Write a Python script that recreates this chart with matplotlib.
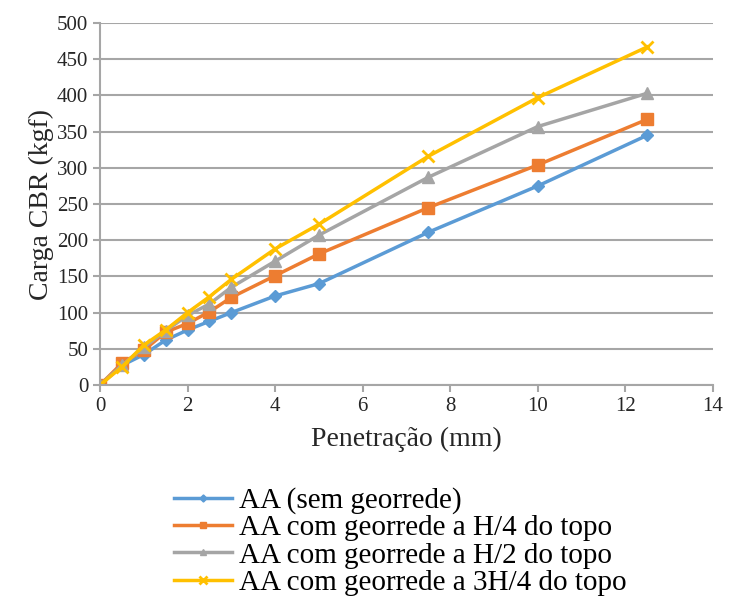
import matplotlib
matplotlib.use("Agg")
import matplotlib.pyplot as plt

plt.rcParams['font.family'] = ['Liberation Serif', 'DejaVu Serif']

penetracao = [0, 0.5, 1, 1.5, 2, 2.5, 3, 4, 5, 7.5, 10, 12.5]
sem_georrede = [0, 27, 42, 62, 76, 88, 100, 123, 140, 211, 275, 345]
h4_topo = [0, 30, 48, 73, 85, 101, 121, 151, 181, 245, 304, 367]
h2_topo = [0, 27, 52, 75, 96, 112, 135, 171, 207, 287, 357, 403]
h34_topo = [0, 25, 55, 76, 100, 122, 146, 188, 222, 316, 397, 467]

labels = ['AA (sem georrede)',
          'AA com georrede a H/4 do topo',
          'AA com georrede a H/2 do topo',
          'AA com georrede a 3H/4 do topo']

fig = plt.figure(figsize=(7.29, 6.15), dpi=100)
ax = fig.add_axes([100/729, 1 - 385/615, 613/729, 362/615])

ax.plot(penetracao, sem_georrede, color='#5b9bd5', lw=2.5, marker='D', ms=6, label=labels[0])
ax.plot(penetracao, h4_topo, color='#ed7d31', lw=2.5, marker='s', ms=8, label=labels[1])
ax.plot(penetracao, h2_topo, color='#a5a5a5', lw=2.5, marker='^', ms=8, label=labels[2])
ax.plot(penetracao, h34_topo, color='#ffc000', lw=2.5, marker='x', ms=9, mew=2, label=labels[3])

ax.set_xlim(0, 14)
ax.set_ylim(0, 500)
ax.set_xticks(range(0, 15, 2))
ax.set_yticks(range(0, 501, 50))
ax.yaxis.grid(True, color='#a6a6a6', lw=1.5)
ax.set_axisbelow(True)
for s in ['top', 'right']:
    ax.spines[s].set_visible(False)
for s in ['left', 'bottom']:
    ax.spines[s].set_color('#a6a6a6')
    ax.spines[s].set_linewidth(1.5)
ax.tick_params(colors='#a6a6a6', labelcolor='#262626', labelsize=15, width=1.5, length=5)
ax.set_xlabel('Penetração (mm)', fontsize=20, color='#262626', labelpad=8)
ax.set_ylabel('Carga CBR (kgf)', fontsize=20, color='#262626', labelpad=2)

ax.legend(loc='upper left', bbox_to_anchor=(62/613, -0.25), frameon=False,
          fontsize=21, handlelength=2.0, handletextpad=0.25, labelspacing=0.03,
          borderaxespad=0, markerscale=0.6)

fig.savefig('out.png', dpi=100)
